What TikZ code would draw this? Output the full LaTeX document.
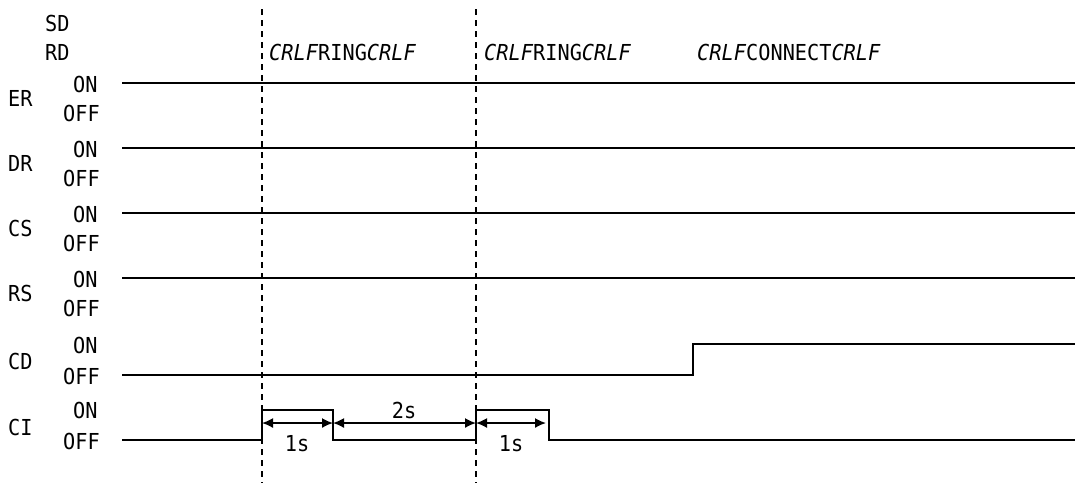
\documentclass[tikz,border=0pt]{standalone}
\usepackage{fontspec}
\setmainfont{DejaVu Sans Mono}[FakeStretch=0.92]
\usetikzlibrary{arrows, arrows.meta, positioning}

\begin{document}
\begin{tikzpicture}[x=1pt, y=-1pt, every node/.style={font=\fontsize{22}{22}\selectfont, inner sep=0pt}, sig/.style={line width=1.6pt}, mark line/.style={line width=1.2pt, dash pattern=on 6pt off 5pt}, span/.style={{Latex[length=11pt,width=10pt]}-{Latex[length=11pt,width=10pt]}, line width=1.6pt}]
  \useasboundingbox (0,0) rectangle (1075,483);

  % left labels
  \node (sd) [anchor=west] at (45,23) {SD};
  \node (rd) [anchor=west] at (45,52) {RD};
  \node (er) [anchor=west] at (8,98) {ER};
  \node (dr) [anchor=west] at (8,163) {DR};
  \node (cs) [anchor=west] at (8,228) {CS};
  \node (rs) [anchor=west] at (8,293) {RS};
  \node (cd) [anchor=west] at (8,361) {CD};
  \node (ci) [anchor=west] at (8,427) {CI};
  \node (eron) [anchor=west] at (73,84) {ON};   \node (eroff) [anchor=west] at (63,113) {OFF};
  \node (dron) [anchor=west] at (73,149) {ON};  \node (droff) [anchor=west] at (63,178) {OFF};
  \node (cson) [anchor=west] at (73,214) {ON};  \node (csoff) [anchor=west] at (63,243) {OFF};
  \node (rson) [anchor=west] at (73,279) {ON};  \node (rsoff) [anchor=west] at (63,308) {OFF};
  \node (cdon) [anchor=west] at (73,345) {ON};  \node (cdoff) [anchor=west] at (63,376) {OFF};
  \node (cion) [anchor=west] at (73,410) {ON};  \node (cioff) [anchor=west] at (63,441) {OFF};

  % data on the line
  \node (ring1) [anchor=west] at (269,52) {\textit{CRLF}RING\textit{CRLF}};
  \node (ring2) [anchor=west] at (484,52) {\textit{CRLF}RING\textit{CRLF}};
  \node (conn) [anchor=west] at (697,52) {\textit{CRLF}CONNECT\textit{CRLF}};

  % markers
  \coordinate (m1t) at (262,9);  \coordinate (m1b) at (262,483);
  \coordinate (m2t) at (476,9);  \coordinate (m2b) at (476,483);
  \draw [mark line] (m1t) -- (m1b);
  \draw [mark line] (m2t) -- (m2b);

  % signals
  \draw [sig] (122,83) -- (1075,83);
  \draw [sig] (122,148) -- (1075,148);
  \draw [sig] (122,213) -- (1075,213);
  \draw [sig] (122,278) -- (1075,278);
  \draw [sig] (122,375) -- (693,375) -- (693,344) -- (1075,344);
  \draw [sig] (122,440) -- (262,440) -- (262,410) -- (333,410) -- (333,440) -- (476,440) -- (476,410) -- (549,410) -- (549,440) -- (1075,440);

  % timing
  \coordinate (t1) at (262,423);
  \coordinate (t2) at (333,423);
  \coordinate (t3) at (476,423);
  \coordinate (t4) at (546,423);
  \draw [span] (t1) -- (t2);
  \draw [span] (t2) -- (t3);
  \draw [span] (t3) -- (t4);
  \node (one1) at (297,444) {1s};
  \node (two) at (404,410) {2s};
  \node (one2) at (511,444) {1s};
\end{tikzpicture}
\end{document}
